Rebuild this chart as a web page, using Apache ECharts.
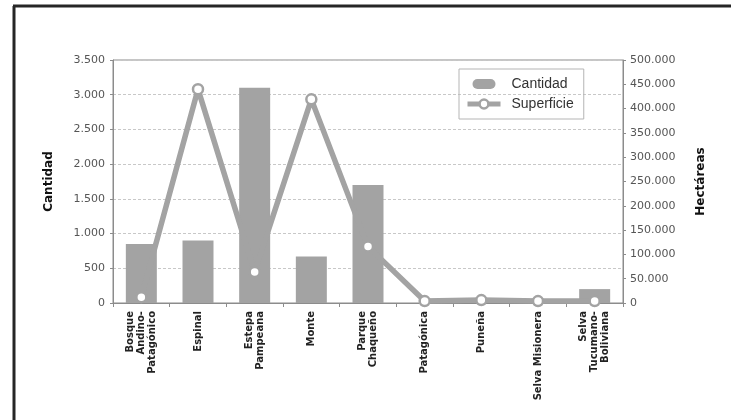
<!DOCTYPE html>
<html>
<head>
<meta charset="utf-8">
<script src="https://cdn.jsdelivr.net/npm/echarts@6/dist/echarts.min.js"></script>
<style>
html,body{margin:0;padding:0;background:#fff;}
#chart{width:731px;height:420px;}
</style>
</head>
<body>
<div id="chart"></div>
<script>
var categories = ['Bosque\nAndino-\nPatagónico', 'Espinal', 'Estepa\nPampeana', 'Monte', 'Parque\nChaqueño', 'Patagónica', 'Puneña', 'Selva Misionera', 'Selva\nTucumano-\nBoliviana'];
var cantidad = [850, 900, 3100, 670, 1700, 0, 0, 0, 200];
var superficie = [12000, 440000, 64000, 419000, 116000, 4000, 6000, 4000, 4000];
var leftTicks = {min: 0, max: 3500, interval: 500};
var rightTicks = {min: 0, max: 500000, interval: 50000};

function fmt(v) {
  return String(v).replace(/\B(?=(\d{3})+(?!\d))/g, '.');
}

var chart = echarts.init(document.getElementById('chart'), null, {renderer: 'canvas'});
var grey = '#a3a3a3';
var axisFont = 'DejaVu Sans';
chart.setOption({
  animation: false,
  backgroundColor: '#fff',
  graphic: [
    {type: 'line', shape: {x1: 13, y1: 6, x2: 731, y2: 6}, style: {stroke: '#262626', lineWidth: 3}},
    {type: 'line', shape: {x1: 14, y1: 6, x2: 14, y2: 420}, style: {stroke: '#262626', lineWidth: 3}}
  ],
  grid: {left: 113, right: 108, top: 60, height: 243, show: true, borderColor: '#8c8c8c', borderWidth: 1},
  legend: {
    orient: 'vertical',
    left: 459, top: 69,
    padding: [8, 10, 8, 6],
    itemGap: 6,
    itemWidth: 33, itemHeight: 11,
    borderColor: '#b5b5b5', borderWidth: 1,
    textStyle: {fontFamily: 'Liberation Sans', fontSize: 14, color: '#333', padding: [0, 0, 0, 6]},
    data: [
      {name: 'Cantidad', icon: 'path://M0,0 L0,0 M10,0.5 L23,0.5 A5,5 0 0 1 23,10.5 L10,10.5 A5,5 0 0 1 10,0.5 Z M33,11 L33,11'},
      {name: 'Superficie', lineStyle: {width: 5, color: grey}, itemStyle: {color: '#fff', borderColor: grey, borderWidth: 2.5}}
    ]
  },
  xAxis: {
    type: 'category',
    data: categories,
    axisLine: {lineStyle: {color: '#8c8c8c', width: 1}},
    axisTick: {show: true, length: 4, lineStyle: {color: '#8c8c8c'}},
    axisLabel: {
      rotate: 90, interval: 0, margin: 8,
      fontFamily: axisFont, fontWeight: 'bold', fontSize: 10, color: '#222', lineHeight: 11
    }
  },
  yAxis: [
    {
      type: 'value',
      min: leftTicks.min, max: leftTicks.max, interval: leftTicks.interval,
      name: 'Cantidad', nameLocation: 'middle', nameGap: 58, nameRotate: 90,
      nameTextStyle: {fontFamily: axisFont, fontWeight: 'bold', fontSize: 12, color: '#111'},
      axisLine: {show: true, lineStyle: {color: '#8c8c8c'}},
      axisTick: {show: true, length: 3, lineStyle: {color: '#8c8c8c'}},
      axisLabel: {fontFamily: axisFont, fontSize: 11, color: '#555', margin: 8, formatter: fmt},
      splitLine: {show: true, lineStyle: {color: '#c8c8c8', type: [3, 2], width: 1}}
    },
    {
      type: 'value',
      min: rightTicks.min, max: rightTicks.max, interval: rightTicks.interval,
      name: 'Hectáreas', nameLocation: 'middle', nameGap: 72, nameRotate: 90,
      nameTextStyle: {fontFamily: axisFont, fontWeight: 'bold', fontSize: 12, color: '#111'},
      axisLine: {show: true, lineStyle: {color: '#8c8c8c'}},
      axisTick: {show: true, length: 3, lineStyle: {color: '#8c8c8c'}},
      axisLabel: {fontFamily: axisFont, fontSize: 11, color: '#555', margin: 7, formatter: fmt},
      splitLine: {show: false}
    }
  ],
  series: [
    {
      name: 'Cantidad', type: 'bar', yAxisIndex: 0,
      data: cantidad, barWidth: 31,
      itemStyle: {color: grey}
    },
    {
      name: 'Superficie', type: 'line', yAxisIndex: 1,
      data: superficie,
      symbol: 'circle', symbolSize: 10,
      lineStyle: {color: grey, width: 5.5},
      itemStyle: {color: '#fff', borderColor: grey, borderWidth: 2.5},
      z: 3
    }
  ]
});
</script>
</body>
</html>
